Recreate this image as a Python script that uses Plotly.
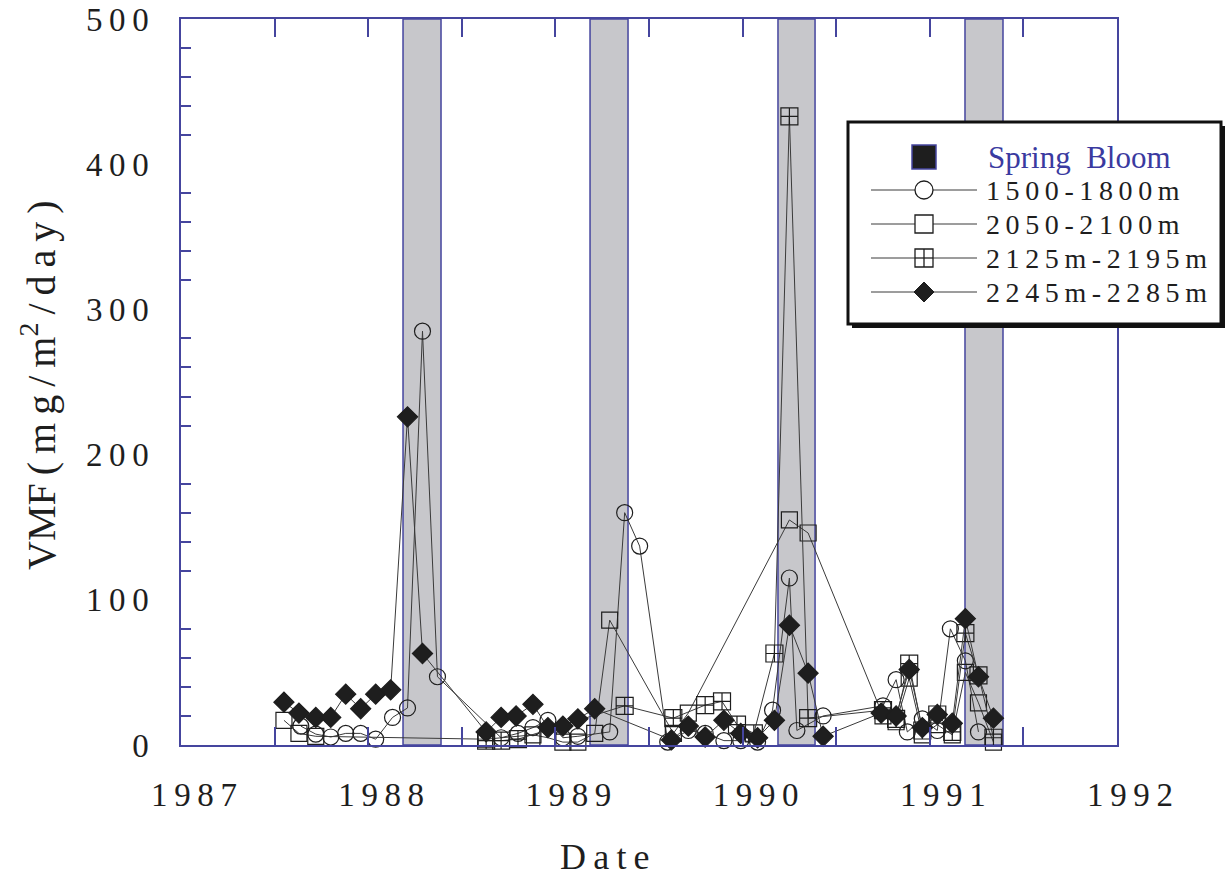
import plotly.graph_objects as go

# ---- data -------------------------------------------------------------
# spring bloom windows (decimal year)
bloom_start = [1988.186, 1989.185, 1990.189, 1991.188]
bloom_end = [1988.389, 1989.388, 1990.387, 1991.391]

# 1500-1800 m
t_1500 = [1987.64, 1987.72, 1987.80, 1987.88, 1987.96, 1988.04, 1988.13, 1988.21,
          1988.29, 1988.37, 1988.71, 1988.80, 1988.88, 1988.96, 1989.04, 1989.12,
          1989.29, 1989.37, 1989.45, 1989.60, 1989.71, 1989.80, 1989.90, 1989.99,
          1990.08, 1990.16, 1990.25, 1990.29, 1990.43, 1990.75, 1990.82, 1990.88,
          1990.96, 1991.04, 1991.11, 1991.19, 1991.26]
v_1500 = [13, 7.5, 5.5, 8, 8, 4, 19, 25.5,
          285, 47, 5, 8, 12, 17, 5, 6,
          9, 160, 137, 2, 10, 8, 3, 3,
          2, 24, 115, 10, 20, 27, 45, 9,
          18, 10, 80, 58, 9]

# 2050-2100 m
t_2050 = [1987.55, 1987.63, 1987.72, 1988.63, 1988.88, 1988.96, 1989.04, 1989.12,
          1989.21, 1989.29, 1989.63, 1989.71, 1990.25, 1990.35, 1990.75, 1990.82,
          1990.89, 1990.96, 1991.04, 1991.12, 1991.19, 1991.26, 1991.34]
v_2050 = [17, 8, 6, 4, 7, 5, 2, 2,
          8, 86, 8, 22, 155, 146, 20, 16,
          46, 7, 14, 7, 50, 29, 2]

# 2125-2195 m
t_2125 = [1988.63, 1988.71, 1988.80, 1989.37, 1989.63, 1989.80, 1989.89, 1989.97,
          1990.06, 1990.17, 1990.25, 1990.35, 1990.75, 1990.82, 1990.89, 1990.96,
          1991.04, 1991.12, 1991.19, 1991.26, 1991.34]
v_2125 = [3, 3, 4, 27, 18.5, 27.5, 30, 14,
          8, 63, 433, 18.5, 24, 18, 56, 10,
          21, 9, 77, 48, 5]

# 2245-2285 m
t_2245 = [1987.55, 1987.63, 1987.72, 1987.80, 1987.88, 1987.96, 1988.04, 1988.12,
          1988.21, 1988.29, 1988.63, 1988.71, 1988.79, 1988.88, 1988.96, 1989.04,
          1989.12, 1989.21, 1989.62, 1989.71, 1989.80, 1989.90, 1989.99, 1990.08,
          1990.17, 1990.25, 1990.35, 1990.43, 1990.74, 1990.82, 1990.89, 1990.96,
          1991.04, 1991.12, 1991.19, 1991.26, 1991.34]
v_2245 = [29.5, 22, 19, 19, 35, 25, 35, 38,
          226, 63, 9, 19, 20, 28, 12, 13,
          18, 25, 3.5, 13, 5.5, 17, 8, 5,
          17, 82.5, 49.5, 6, 22, 20, 52, 12,
          21, 15, 87, 47, 18.5]

year_ticks = [1987, 1988, 1989, 1990, 1991, 1992]
vmf_ticks = [0, 100, 200, 300, 400, 500]

legend_names = ["1500-1800m", "2050-2100m", "2125m-2195m", "2245m-2285m"]

# ---- style -------------------------------------------------------------
NAVY = "#45459e"
INK = "#1e1e1e"
SERIF = "Liberation Serif, Times New Roman, serif"
TS = "\u2009"  # thin space used as letter spacing


def spaced(s, sep=TS):
    return sep.join(list(s))


W, H = 1225, 877
ML, MR, MT, MB = 181, 108, 19, 132
PW, PH = W - ML - MR, H - MT - MB


def px(x):
    return (x - ML) / PW


def py(y):
    return (H - MB - y) / PH


fig = go.Figure()

line_style = dict(color="#3a3a3a", width=1)
series = [
    (t_1500, v_1500, "circle-open", 16, INK),
    (t_2050, v_2050, "square-open", 16, INK),
    (t_2125, v_2125, "square-cross-open", 17, INK),
    (t_2245, v_2245, "diamond", 15.5, INK),
]
for (t, v, sym, size, col), name in zip(series, legend_names):
    fig.add_trace(go.Scatter(
        x=t, y=v, mode="lines+markers", name=name,
        line=line_style,
        marker=dict(symbol=sym, size=size, color=col,
                    line=dict(color=col, width=1.2)),
        cliponaxis=False, showlegend=False,
    ))

shapes = []
# spring bloom bands
for a, b in zip(bloom_start, bloom_end):
    shapes.append(dict(type="rect", xref="x", yref="paper", x0=a, x1=b, y0=0, y1=1,
                       fillcolor="#c7c7cb", line=dict(color=NAVY, width=1.5),
                       layer="below"))

# legend panel: drop shadow, then white box
shapes.append(dict(type="rect", xref="paper", yref="paper",
                   x0=px(852), x1=px(1225), y0=py(328), y1=py(126),
                   fillcolor="#111111", line=dict(width=0), layer="above"))
shapes.append(dict(type="rect", xref="paper", yref="paper",
                   x0=px(848), x1=px(1221), y0=py(324), y1=py(122),
                   fillcolor="white", line=dict(color="#111111", width=3), layer="above"))

mx = 924
# spring bloom swatch
shapes.append(dict(type="rect", xref="paper", yref="paper", xsizemode="pixel", ysizemode="pixel",
                   xanchor=px(mx), yanchor=py(157), x0=-12, x1=12, y0=-12, y1=12,
                   fillcolor=INK, line=dict(color=NAVY, width=1.5), layer="above"))

rows = [190, 224, 258, 292]
for i, ry in enumerate(rows):
    shapes.append(dict(type="line", xref="paper", yref="paper",
                       x0=px(871), x1=px(977), y0=py(ry), y1=py(ry),
                       line=dict(color="#3a3a3a", width=1), layer="above"))
    common = dict(xref="paper", yref="paper", xsizemode="pixel", ysizemode="pixel",
                  xanchor=px(mx), yanchor=py(ry), layer="above")
    if i == 0:
        shapes.append(dict(type="circle", x0=-9, x1=9, y0=-9, y1=9, fillcolor="white",
                           line=dict(color=INK, width=1.3), **common))
    elif i == 1:
        shapes.append(dict(type="rect", x0=-9, x1=9, y0=-9, y1=9, fillcolor="white",
                           line=dict(color=INK, width=1.3), **common))
    elif i == 2:
        shapes.append(dict(type="rect", x0=-9, x1=9, y0=-9, y1=9, fillcolor="white",
                           line=dict(color=INK, width=1.3), **common))
        shapes.append(dict(type="line", x0=0, x1=0, y0=-9, y1=9,
                           line=dict(color=INK, width=1.3), **common))
        shapes.append(dict(type="line", x0=-9, x1=9, y0=0, y1=0,
                           line=dict(color=INK, width=1.3), **common))
    else:
        shapes.append(dict(type="path", path="M -10 0 L 0 10 L 10 0 L 0 -10 Z",
                           fillcolor=INK, line=dict(color=INK, width=1), **common))

annotations = [
    dict(xref="paper", yref="paper", x=px(986), y=py(157), xanchor="left", yanchor="middle",
         text="Spring\u00a0\u00a0Bloom", showarrow=False,
         font=dict(family=SERIF, size=31, color="#3a3aa0")),
]
for ry, name in zip(rows, legend_names):
    annotations.append(dict(xref="paper", yref="paper", x=px(984), y=py(ry),
                            xanchor="left", yanchor="middle", text=spaced(name),
                            showarrow=False, font=dict(family=SERIF, size=28, color=INK)))

# axis titles
annotations.append(dict(xref="paper", yref="paper", x=px(605), y=py(857),
                        xanchor="center", yanchor="middle", text=spaced("Date"),
                        showarrow=False, font=dict(family=SERIF, size=36, color=INK)))
annotations.append(dict(xref="paper", yref="paper", x=px(38), y=py(385),
                        xanchor="center", yanchor="middle", textangle=-90,
                        text="VMF" + TS + TS.join(["(", "m", "g", "/", "m"]) + "<sup>2</sup>"
                             + TS + TS.join(["/", "d", "a", "y", ")"]),
                        showarrow=False, font=dict(family=SERIF, size=40, color=INK)))

x_tickvals = []
x_ticktext = []
for yr in year_ticks:
    x_tickvals.append(yr)
    x_ticktext.append(spaced(str(yr)))
    if yr < year_ticks[-1]:
        x_tickvals.append(yr + 0.5)
        x_ticktext.append(" ")

y_minor = [v for v in range(0, 501, 20) if v % 100 != 0]

fig.update_layout(
    width=W, height=H,
    margin=dict(l=ML, r=MR, t=MT, b=MB, pad=0, autoexpand=False),
    paper_bgcolor="white", plot_bgcolor="white",
    shapes=shapes, annotations=annotations,
    showlegend=False,
    xaxis=dict(range=[1987, 1992], tickmode="array", tickvals=x_tickvals, ticktext=x_ticktext,
               ticks="inside", ticklen=18, tickwidth=1.5, tickcolor=NAVY,
               showline=True, linecolor=NAVY, linewidth=1.5, mirror="ticks",
               showgrid=False, zeroline=False, ticklabelshift=13, ticklabelstandoff=20,
               automargin=False,
               tickfont=dict(family=SERIF, size=33, color=INK)),
    yaxis=dict(range=[0, 500], tickmode="array", tickvals=vmf_ticks,
               ticktext=[spaced(str(v)) for v in vmf_ticks],
               ticks="", showline=True, linecolor=NAVY, linewidth=1.5, mirror=True,
               showgrid=False, zeroline=False, ticklabelstandoff=24, automargin=False,
               minor=dict(tickmode="array", tickvals=y_minor, ticks="inside", ticklen=10,
                          tickwidth=1.5, tickcolor=NAVY, showgrid=False),
               tickfont=dict(family=SERIF, size=33, color=INK)),
)

fig.write_html("out.html")
